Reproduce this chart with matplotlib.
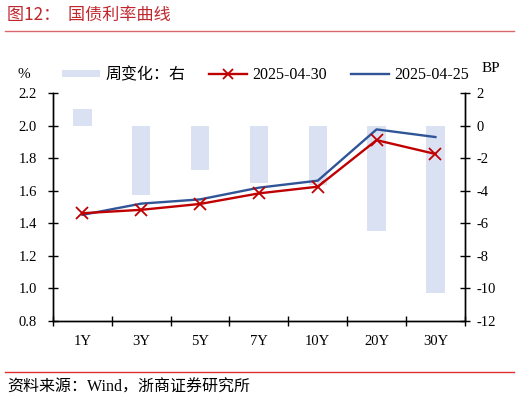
import matplotlib
matplotlib.use("Agg")
import matplotlib.pyplot as plt
import numpy as np
from matplotlib.lines import Line2D
from matplotlib.patches import Patch

categories = ["1Y", "3Y", "5Y", "7Y", "10Y", "20Y", "30Y"]
weekly_change_bp = [1.0, -4.25, -2.7, -3.5, -3.65, -6.45, -10.3]
yield_0430 = [1.462, 1.483, 1.519, 1.584, 1.625, 1.911, 1.826]
yield_0425 = [1.452, 1.521, 1.547, 1.619, 1.662, 1.977, 1.930]
left_ticks = [0.8, 1.0, 1.2, 1.4, 1.6, 1.8, 2.0, 2.2]
right_ticks = [-12, -10, -8, -6, -4, -2, 0, 2]

SERIF = ["Liberation Serif", "Noto Sans CJK SC"]
CJK = ["Noto Sans CJK SC", "Liberation Serif"]
MIX = ["Liberation Serif", "Noto Sans CJK SC"]

RED = "#C00000"
BLUE = "#2F5597"
BAR = "#D9E1F2"
TITLE_RED = "#C0272D"

fig = plt.figure(figsize=(5.2, 4.03), dpi=100)
ax = fig.add_axes([0.1019, 0.2035, 0.792, 0.5655])
ax2 = ax.twinx()
ax.set_zorder(ax2.get_zorder() + 1)
ax.patch.set_visible(False)

x = np.arange(len(categories))
ax2.bar(x, weekly_change_bp, width=0.31, color=BAR, zorder=1)
ax.plot(x, yield_0425, color=BLUE, lw=1.7, zorder=3)
ax.plot(x, yield_0430, color=RED, lw=1.7, marker="x", markersize=8.5,
        markeredgewidth=1.3, zorder=4)

ax.set_xlim(-0.5, len(categories) - 0.5)
ax.set_ylim(0.8, 2.2)
ax2.set_ylim(-12, 2)
ax.set_yticks(left_ticks)
ax.set_yticklabels([f"{v:.1f}" for v in left_ticks], family=SERIF, fontsize=10.5)
ax2.set_yticks(right_ticks)
ax2.set_yticklabels([str(v) for v in right_ticks], family=SERIF, fontsize=10.5)
ax.set_xticks(x)
ax.set_xticklabels(categories, family=SERIF, fontsize=10.5)
ax.set_xticks(np.arange(-0.5, len(categories)), minor=True)
ax.tick_params(axis="x", which="major", length=0, pad=10)
ax.tick_params(axis="x", which="minor", length=7, direction="inout", width=1)
ax.tick_params(axis="y", length=7, direction="inout", width=1, pad=8)
ax2.tick_params(axis="y", length=7, direction="inout", width=1, pad=5)
ax2.tick_params(axis="x", length=0)

for a in (ax, ax2):
    a.spines["top"].set_visible(False)
    for s in ("left", "right", "bottom"):
        a.spines[s].set_linewidth(1.0)
        a.spines[s].set_color("black")

# legend
handles = [Patch(facecolor=BAR, edgecolor="none"),
           Line2D([], [], color=RED, lw=1.7, marker="x", markersize=7, markeredgewidth=1.3),
           Line2D([], [], color=BLUE, lw=1.7)]
labels = ["周变化：右", "2025-04-30", "2025-04-25"]
leg = fig.legend(handles, labels, loc="center left", bbox_to_anchor=(62 / 520, 1 - 75 / 403),
                 ncol=3, frameon=False, prop={"family": MIX, "size": 11.5},
                 borderpad=0, borderaxespad=0,
                 handlelength=2.4, handleheight=0.33, columnspacing=1.5, handletextpad=0.3)

fig.text(24 / 520, 1 - 74 / 403, "%", family=SERIF, fontsize=11, ha="center", va="center")
fig.text(491 / 520, 1 - 68 / 403, "BP", family=SERIF, fontsize=11, ha="center", va="center")

# title and footer
fig.text(7 / 520, 1 - 15 / 403, "图12：  国债利率曲线", family=CJK, fontsize=12.3, color=TITLE_RED,
         ha="left", va="center")
fig.add_artist(Line2D([5 / 520, 514 / 520], [1 - 31 / 403, 1 - 31 / 403], color="#D9666B", lw=1.0))
fig.add_artist(Line2D([5 / 520, 514 / 520], [1 - 372 / 403, 1 - 372 / 403], color="#E03030", lw=1.0))
fig.text(7 / 520, 1 - 388 / 403, "资料来源：Wind，浙商证券研究所", family=MIX, fontsize=11.5,
         color="black", ha="left", va="center")

fig.savefig("out.png", dpi=100)
